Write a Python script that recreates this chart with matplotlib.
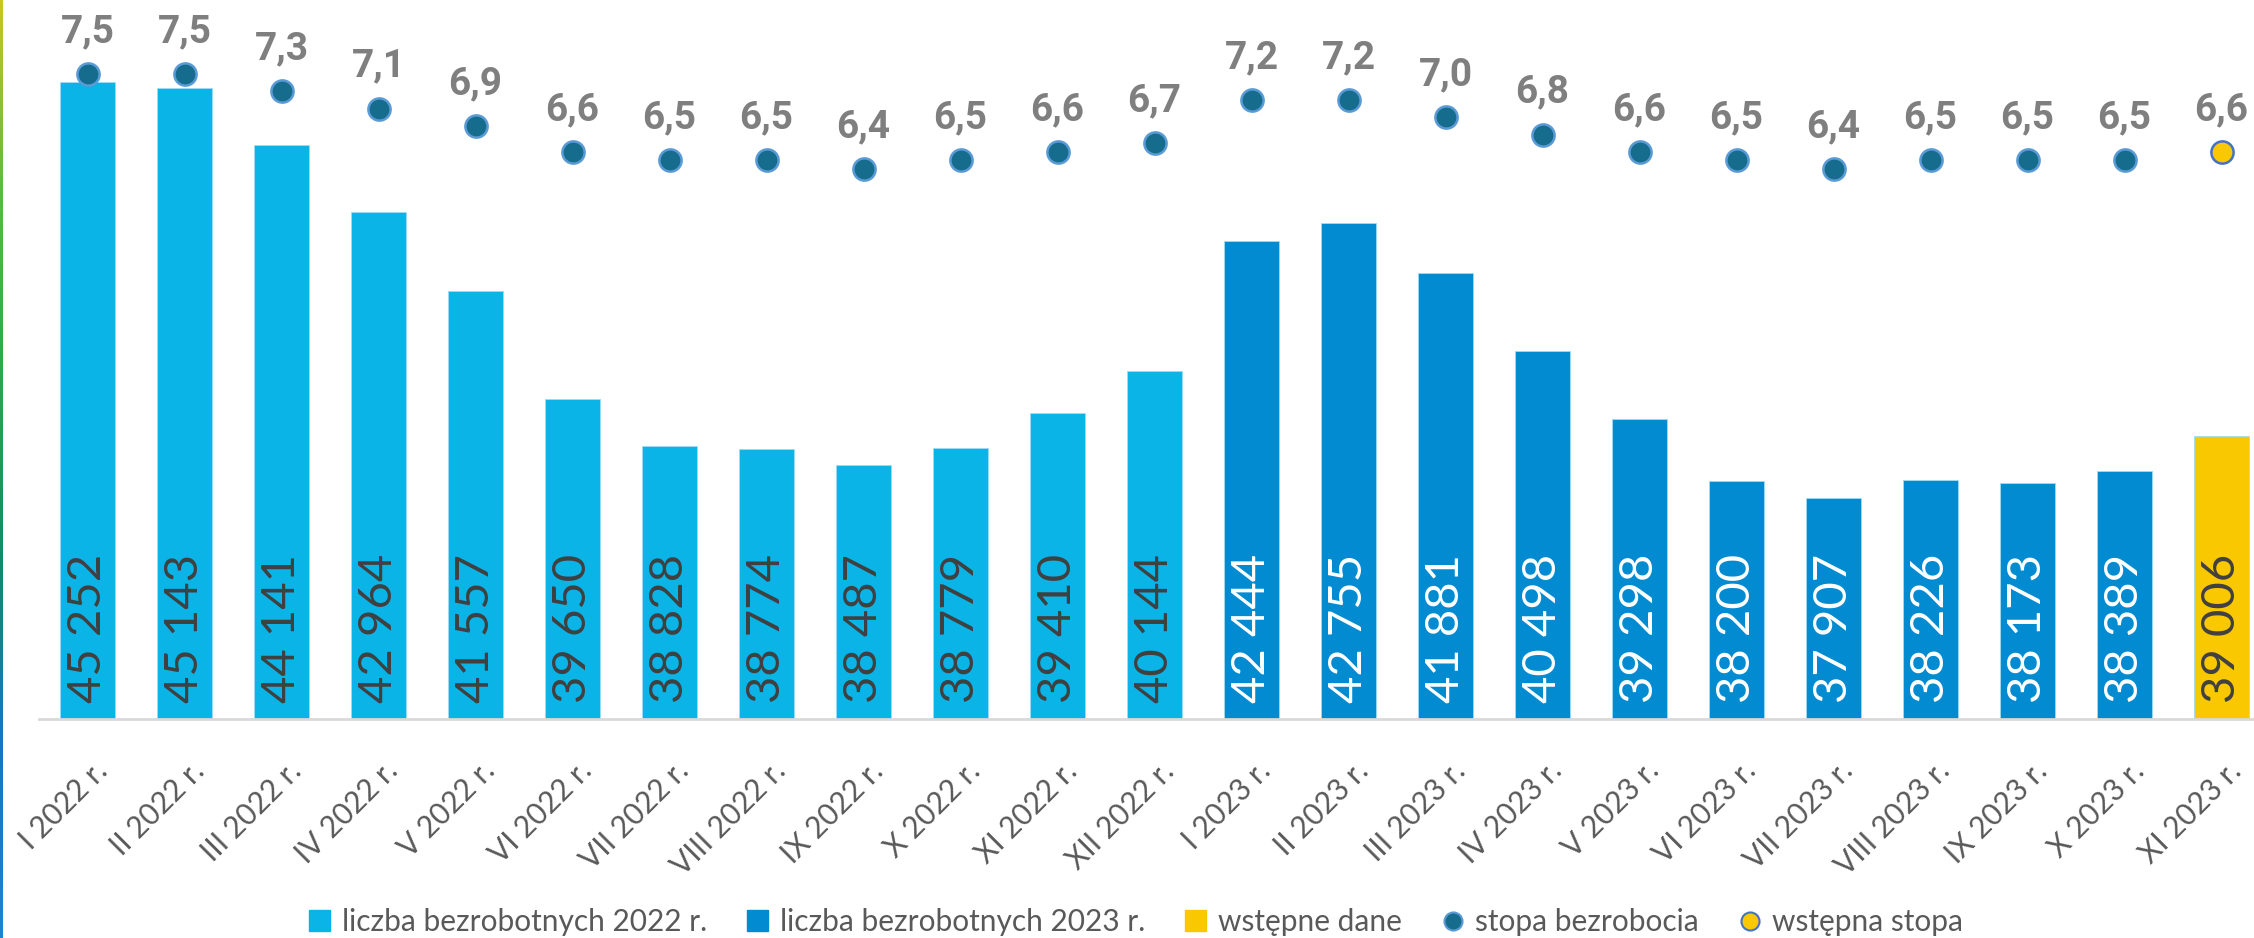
import matplotlib.pyplot as plt
import matplotlib.transforms as mtransforms
import numpy as np
from matplotlib.colors import LinearSegmentedColormap
from matplotlib.lines import Line2D
from matplotlib.patches import Patch

months = ["I", "II", "III", "IV", "V", "VI", "VII", "VIII", "IX", "X", "XI", "XII",
          "I", "II", "III", "IV", "V", "VI", "VII", "VIII", "IX", "X", "XI"]
years = [2022] * 12 + [2023] * 11
unemployed = [45252, 45143, 44141, 42964, 41557, 39650, 38828, 38774, 38487, 38779,
              39410, 40144, 42444, 42755, 41881, 40498, 39298, 38200, 37907, 38226,
              38173, 38389, 39006]
rate = [7.5, 7.5, 7.3, 7.1, 6.9, 6.6, 6.5, 6.5, 6.4, 6.5, 6.6, 6.7,
        7.2, 7.2, 7.0, 6.8, 6.6, 6.5, 6.4, 6.5, 6.5, 6.5, 6.6]
preliminary = [False] * 22 + [True]

C_2022 = "#0BB4E6"
C_2023 = "#028BD1"
C_PRE = "#F9C800"
C_DOT = "#156C8C"

plt.rcParams['font.family'] = ['Lato', 'DejaVu Sans']

fig = plt.figure(figsize=(22.54, 9.38), dpi=100)
W, H = 2254, 938
ax = fig.add_axes([39 / W, 1 - 719 / H, 1 - 39 / W, 719 / H])
ax2 = ax.twinx()

x = np.arange(len(unemployed))
colors = [C_PRE if p else (C_2022 if y == 2022 else C_2023)
          for y, p in zip(years, preliminary)]
ax.bar(x, unemployed, width=0.567, color=colors, edgecolor="#9FDCF5",
       linewidth=0.6, zorder=2)

for i, v in enumerate(unemployed):
    txt = f"{v // 1000} {v % 1000:03d}"
    tc = "white" if (years[i] == 2023 and not preliminary[i]) else "#404040"
    ax.annotate(txt, (i, 34000), xytext=(0, 11.5), textcoords="offset points",
                rotation=90, ha="center", va="bottom", fontsize=34, color=tc,
                zorder=3)

ax.set_ylim(34000, 46700)
ax.set_xlim(-0.5, 22.335)
ax.set_xticks(x)
ax.set_xticklabels([f"{m} {y} r." for m, y in zip(months, years)],
                   rotation=45, ha="right", rotation_mode="anchor",
                   fontsize=21.5, color="#595959")
ax.tick_params(axis="x", length=0, pad=27)
shift = mtransforms.ScaledTranslation(5 / 100, 0, fig.dpi_scale_trans)
for lab in ax.get_xticklabels():
    lab.set_transform(lab.get_transform() + shift)
ax.set_yticks([])
for s in ["top", "left", "right"]:
    ax.spines[s].set_visible(False)
ax.spines["bottom"].set_color("#D9D9D9")
ax.spines["bottom"].set_linewidth(2)

# unemployment rate on the secondary axis
for i, r in enumerate(rate):
    if preliminary[i]:
        ax2.plot(i, r, "o", ms=16, mfc=C_PRE, mec="#4472C4", mew=1.8, zorder=4)
    else:
        ax2.plot(i, r, "o", ms=16, mfc=C_DOT, mec="#5B9BD5", mew=1.8, zorder=4)
    ax2.annotate(f"{r:.1f}".replace(".", ","), (i, r), xytext=(0, 23),
                 textcoords="offset points", ha="center", va="baseline",
                 fontsize=28, fontweight="bold", color="#7F7F7F",
                 family=["Roboto", "DejaVu Sans"])
ax2.set_ylim(0.043, 8.355)
ax2.set_yticks([])
for s in ["top", "left", "right", "bottom"]:
    ax2.spines[s].set_visible(False)

handles = [
    Patch(color=C_2022),
    Patch(color=C_2023),
    Patch(color=C_PRE),
    Line2D([], [], marker="o", ls="", ms=13, mfc=C_DOT, mec="#5B9BD5", mew=1.5),
    Line2D([], [], marker="o", ls="", ms=13, mfc=C_PRE, mec="#4472C4", mew=1.5),
]
labels = ["liczba bezrobotnych 2022 r.", "liczba bezrobotnych 2023 r.",
          "wstępne dane", "stopa bezrobocia", "wstępna stopa"]
fig.legend(handles, labels, loc="center", bbox_to_anchor=(1136 / W, 16 / H),
           ncol=5, frameon=False, fontsize=21.5, labelcolor="#595959",
           handlelength=0.7, handleheight=0.7, handletextpad=0.4,
           columnspacing=1.35)

# thin gradient strip at the left edge
strip = fig.add_axes([0, 0, 3 / W, 1])
cmap = LinearSegmentedColormap.from_list(
    "edge", ["#C8C81E", "#5DB947", "#2AA84A", "#0E8C6A", "#1C74C4", "#1A84D4"])
strip.imshow(np.linspace(0, 1, 256).reshape(-1, 1), aspect="auto", cmap=cmap)
strip.axis("off")

fig.savefig("out.png", dpi=100)
